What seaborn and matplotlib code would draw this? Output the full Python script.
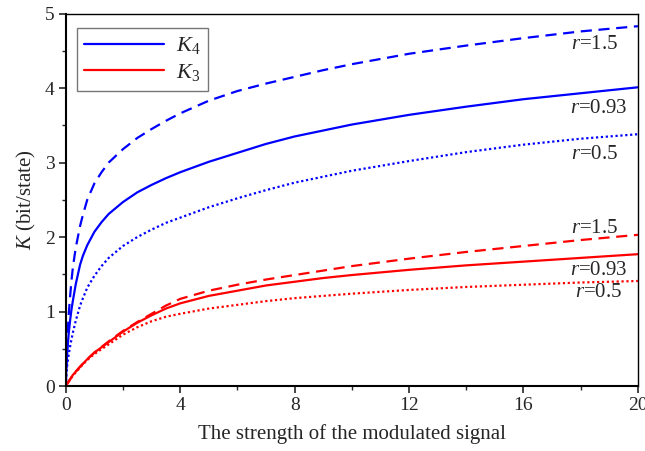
import numpy as np
import pandas as pd
import matplotlib
matplotlib.use("Agg")
import matplotlib.pyplot as plt
from matplotlib.ticker import MultipleLocator
import seaborn as sns

# values
# K4 curves (blue)
k4_r15_x = [0, 0.03, 0.06, 0.1, 0.15, 0.2, 0.25, 0.35, 0.5, 0.6, 0.75, 1, 1.25, 1.5, 2, 2.5, 3, 3.5, 4, 5, 6, 7, 8, 9, 10, 12, 14, 16, 18, 20]
k4_r15_y = [0, 0.40, 0.65, 0.95, 1.20, 1.42, 1.60, 1.86, 2.15, 2.30, 2.50, 2.72, 2.87, 3.00, 3.18, 3.33, 3.45, 3.56, 3.66, 3.83, 3.96, 4.06, 4.15, 4.24, 4.32, 4.46, 4.57, 4.67, 4.76, 4.83]

k4_r093_x = [0, 0.02, 0.05, 0.1, 0.15, 0.2, 0.25, 0.35, 0.5, 0.6, 0.75, 1, 1.25, 1.5, 2, 2.5, 3, 3.5, 4, 5, 6, 7, 8, 9, 10, 12, 14, 16, 18, 20]
k4_r093_y = [0, 0.25, 0.45, 0.70, 0.88, 1.03, 1.15, 1.37, 1.63, 1.75, 1.89, 2.07, 2.20, 2.31, 2.47, 2.60, 2.70, 2.79, 2.87, 3.01, 3.13, 3.25, 3.35, 3.43, 3.51, 3.64, 3.75, 3.85, 3.93, 4.01]

k4_r05_x = [0, 0.02, 0.05, 0.1, 0.15, 0.2, 0.25, 0.35, 0.5, 0.6, 0.75, 1, 1.25, 1.5, 2, 2.5, 3, 3.5, 4, 5, 6, 7, 8, 9, 10, 12, 14, 16, 18, 20]
k4_r05_y = [0, 0.15, 0.28, 0.42, 0.53, 0.63, 0.72, 0.88, 1.08, 1.18, 1.32, 1.48, 1.61, 1.72, 1.88, 2.00, 2.10, 2.19, 2.26, 2.40, 2.52, 2.63, 2.73, 2.81, 2.89, 3.02, 3.14, 3.24, 3.32, 3.38]

# K3 curves (red)
k3_r15_x = [0, 0.1, 0.25, 0.5, 0.75, 1, 1.5, 2, 2.5, 3, 3.5, 4, 5, 6, 7, 8, 9, 10, 12, 14, 16, 18, 20]
k3_r15_y = [0, 0.06, 0.15, 0.26, 0.36, 0.45, 0.60, 0.74, 0.86, 0.97, 1.08, 1.17, 1.28, 1.36, 1.43, 1.49, 1.55, 1.61, 1.71, 1.80, 1.88, 1.96, 2.03]

k3_r093_x = [0, 0.1, 0.25, 0.5, 0.75, 1, 1.5, 2, 2.5, 3, 3.5, 4, 5, 6, 7, 8, 9, 10, 12, 14, 16, 18, 20]
k3_r093_y = [0, 0.06, 0.15, 0.26, 0.36, 0.45, 0.59, 0.73, 0.85, 0.95, 1.04, 1.11, 1.21, 1.28, 1.35, 1.40, 1.45, 1.49, 1.56, 1.62, 1.67, 1.72, 1.77]

k3_r05_x = [0, 0.1, 0.25, 0.5, 0.75, 1, 1.5, 2, 2.5, 3, 3.5, 4, 5, 6, 7, 8, 9, 10, 12, 14, 16, 18, 20]
k3_r05_y = [0, 0.06, 0.14, 0.25, 0.35, 0.43, 0.56, 0.69, 0.79, 0.87, 0.93, 0.97, 1.04, 1.09, 1.14, 1.18, 1.21, 1.24, 1.29, 1.33, 1.36, 1.39, 1.41]

r_labels = ["1.5", "0.93", "0.5"]
blue_label_y = [4.58, 3.72, 3.11]
red_label_y = [2.11, 1.55, 1.25]

sns.set_style("white")
plt.rcParams['font.family'] = ['Liberation Serif', 'DejaVu Serif']
plt.rcParams['mathtext.fontset'] = 'custom'
plt.rcParams['mathtext.rm'] = 'Liberation Serif'
plt.rcParams['mathtext.it'] = 'Liberation Serif:italic'

fig = plt.figure(figsize=(6.45, 4.51), dpi=100)
ax = fig.add_axes([0.102, 0.144, 0.887, 0.826])

dash = (5, 3)
dot = (1, 1.2)
blue = "#0000FF"
red = "#FF0000"

sns.lineplot(x=k4_r15_x, y=k4_r15_y, ax=ax, color=blue, lw=1.6, sort=False)
ax.lines[-1].set_dashes(dash)
sns.lineplot(x=k4_r093_x, y=k4_r093_y, ax=ax, color=blue, lw=1.6, sort=False, label=r"$K_4$")
sns.lineplot(x=k4_r05_x, y=k4_r05_y, ax=ax, color=blue, lw=1.6, sort=False)
ax.lines[-1].set_dashes(dot)

sns.lineplot(x=k3_r15_x, y=k3_r15_y, ax=ax, color=red, lw=1.6, sort=False)
ax.lines[-1].set_dashes(dash)
sns.lineplot(x=k3_r093_x, y=k3_r093_y, ax=ax, color=red, lw=1.6, sort=False, label=r"$K_3$")
sns.lineplot(x=k3_r05_x, y=k3_r05_y, ax=ax, color=red, lw=1.6, sort=False)
ax.lines[-1].set_dashes(dot)

# r labels at the right end
for lab, yy in zip(r_labels, blue_label_y):
    xx = 19.65 if lab == "0.93" else 19.3
    ax.text(xx, yy, r"$r$=" + lab, ha="right", va="center", fontsize=15)
for lab, yy in zip(r_labels, red_label_y):
    xx = 19.65 if lab == "0.93" else (19.45 if lab == "0.5" else 19.3)
    ax.text(xx, yy, r"$r$=" + lab, ha="right", va="center", fontsize=15)

ax.set_xlim(0, 20)
ax.set_ylim(0, 5)
ax.xaxis.set_major_locator(MultipleLocator(4))
ax.xaxis.set_minor_locator(MultipleLocator(2))
ax.yaxis.set_major_locator(MultipleLocator(1))
ax.yaxis.set_minor_locator(MultipleLocator(0.5))
ax.tick_params(which="major", direction="out", length=5, width=1.2, labelsize=14,
               bottom=True, left=True, top=False, right=False, pad=3)
ax.tick_params(which="minor", direction="out", length=3, width=1.0,
               bottom=True, left=True, top=False, right=False)

for side in ["left", "bottom"]:
    ax.spines[side].set_linewidth(1.5)
for side in ["top", "right"]:
    ax.spines[side].set_linewidth(1.0)
for sp in ax.spines.values():
    sp.set_color("black")

ax.set_xlabel("The strength of the modulated signal", fontsize=15, labelpad=7)
ax.set_ylabel(r"$K$ (bit/state)", fontsize=15, labelpad=5)

leg = ax.legend(loc="upper left", bbox_to_anchor=(0.019, 0.962), fontsize=16, frameon=True,
                fancybox=False, handlelength=3.6, borderpad=0.35, labelspacing=0.25,
                handletextpad=0.5, borderaxespad=0)
leg.get_frame().set_edgecolor("#555555")
leg.get_frame().set_linewidth(1.0)

fig.savefig("out.png", dpi=100)
